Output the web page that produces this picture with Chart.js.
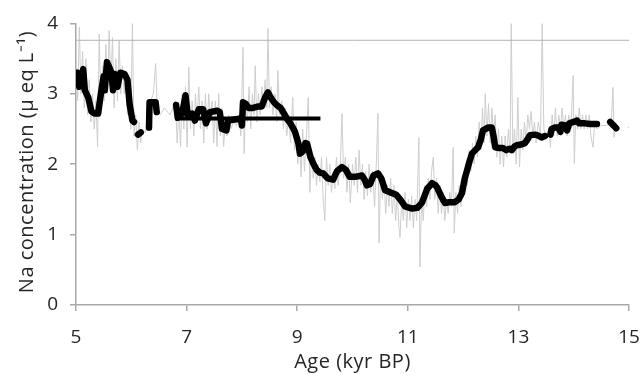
<!DOCTYPE html>
<html>
<head>
<meta charset="utf-8">
<script src="https://cdn.jsdelivr.net/npm/chart.js@4"></script>
<style>
  body { margin: 0; background: #fff; }
</style>
</head>
<body>
<canvas id="naChart" width="643" height="374"></canvas>
<script>
// smoothed record (null = gap in the curve)
const smoothNa = [
  [5.00, 3.20], [5.03, 3.30], [5.06, 3.10], [5.10, 3.25], [5.13, 3.35], [5.16, 3.05],
  [5.22, 2.95], [5.28, 2.75], [5.33, 2.72], [5.40, 2.72], [5.45, 3.00], [5.50, 3.25],
  [5.52, 3.05], [5.56, 3.45], [5.60, 3.38], [5.64, 3.30], [5.67, 3.05], [5.70, 3.28],
  [5.75, 3.10], [5.80, 3.30], [5.88, 3.28], [5.93, 3.20], [5.97, 2.85], [6.02, 2.62],
  [6.05, 2.60], [6.08, null],
  [6.12, 2.42], [6.17, 2.45], [6.2, null],
  [6.32, 2.52], [6.33, 2.88], [6.44, 2.88], [6.46, 2.74], [6.6, null],
  [6.81, 2.84], [6.84, 2.66], [6.92, 2.72], [6.98, 2.98], [7.02, 2.70], [7.10, 2.72],
  [7.15, 2.62], [7.22, 2.78], [7.30, 2.78], [7.35, 2.58], [7.42, 2.74], [7.55, 2.76],
  [7.60, 2.74], [7.64, 2.50], [7.72, 2.48], [7.75, 2.62], [7.98, 2.65], [8.00, 2.55],
  [8.02, 2.88], [8.08, 2.85], [8.12, 2.80], [8.20, 2.80], [8.30, 2.82], [8.36, 2.82],
  [8.42, 2.95], [8.47, 3.02], [8.52, 2.95], [8.58, 2.88], [8.63, 2.84], [8.70, 2.80],
  [8.76, 2.72], [8.81, 2.65], [8.86, 2.60], [8.92, 2.52], [8.96, 2.46], [9.02, 2.30],
  [9.05, 2.15], [9.10, 2.18], [9.15, 2.30], [9.18, 2.29], [9.24, 2.10], [9.29, 2.01],
  [9.35, 1.92], [9.41, 1.88], [9.47, 1.87], [9.55, 1.80], [9.65, 1.78], [9.72, 1.90],
  [9.81, 1.96], [9.88, 1.92], [9.95, 1.82], [10.05, 1.82], [10.17, 1.84], [10.22, 1.78],
  [10.26, 1.70], [10.32, 1.72], [10.38, 1.84], [10.46, 1.87], [10.52, 1.80], [10.59, 1.63],
  [10.68, 1.60], [10.75, 1.58], [10.80, 1.56], [10.88, 1.48], [10.95, 1.40], [10.99, 1.39],
  [11.08, 1.37], [11.17, 1.38], [11.22, 1.42], [11.26, 1.46], [11.35, 1.65], [11.44, 1.73],
  [11.50, 1.70], [11.53, 1.67], [11.60, 1.55], [11.67, 1.45], [11.75, 1.46], [11.85, 1.46],
  [11.92, 1.50], [11.98, 1.59], [12.03, 1.80], [12.07, 1.91], [12.12, 2.05], [12.16, 2.15],
  [12.22, 2.20], [12.27, 2.24], [12.32, 2.35], [12.36, 2.48], [12.45, 2.52], [12.52, 2.52],
  [12.55, 2.40], [12.58, 2.24], [12.65, 2.23], [12.72, 2.23], [12.78, 2.20], [12.84, 2.22],
  [12.88, 2.20], [12.93, 2.25], [12.97, 2.27], [13.05, 2.28], [13.12, 2.30], [13.17, 2.36],
  [13.21, 2.41], [13.30, 2.42], [13.35, 2.41], [13.42, 2.38], [13.48, 2.40], [13.52, null],
  [13.58, 2.42], [13.60, 2.50], [13.66, 2.52], [13.72, 2.52], [13.76, 2.46], [13.78, 2.56],
  [13.85, 2.55], [13.88, 2.48], [13.92, 2.58], [14.00, 2.60], [14.06, 2.62], [14.10, 2.58],
  [14.20, 2.58], [14.30, 2.57], [14.42, 2.57], [14.5, null],
  [14.66, 2.60], [14.72, 2.55], [14.77, 2.51]
]

// raw high resolution record
const rawNa = [
  [5.00, 3.4], [5.03, 2.9], [5.06, 3.95], [5.09, 3.0], [5.12, 3.6], [5.15, 2.8], [5.18, 3.5],
  [5.21, 2.7], [5.24, 3.2], [5.27, 2.6], [5.30, 3.0], [5.33, 2.5], [5.36, 2.9], [5.39, 2.25],
  [5.42, 3.85], [5.45, 2.8], [5.48, 3.4], [5.51, 2.9], [5.54, 3.7], [5.57, 3.0], [5.60, 3.9],
  [5.63, 3.1], [5.66, 3.8], [5.69, 2.8], [5.72, 3.5], [5.75, 2.9], [5.78, 3.75], [5.81, 3.0],
  [5.84, 3.4], [5.87, 3.0], [5.90, 3.3], [5.93, 2.7], [5.96, 3.1], [5.99, 2.5], [6.02, 4.0],
  [6.05, 2.4], [6.08, 2.7], [6.11, 2.2], [6.14, 2.6], [6.17, 2.3], [6.20, 2.5], [6.25, 2.45],
  [6.30, 2.6], [6.35, 2.9], [6.40, 3.0], [6.44, 3.43], [6.47, 2.8], [6.52, 2.7], [6.60, 2.8],
  [6.70, 2.7], [6.80, 2.9], [6.83, 2.3], [6.86, 2.8], [6.89, 2.25], [6.92, 3.0], [6.95, 2.5],
  [6.98, 3.1], [7.01, 2.24], [7.04, 3.38], [7.07, 2.5], [7.10, 2.9], [7.13, 2.4], [7.16, 3.0],
  [7.19, 2.6], [7.22, 3.1], [7.25, 2.5], [7.28, 2.9], [7.31, 2.3], [7.34, 3.0], [7.37, 2.5],
  [7.40, 3.0], [7.43, 2.6], [7.46, 2.9], [7.49, 2.3], [7.52, 2.9], [7.55, 2.25], [7.58, 3.0],
  [7.61, 2.4], [7.64, 2.8], [7.67, 2.25], [7.70, 2.6], [7.73, 2.4], [7.76, 2.7], [7.80, 2.5],
  [7.85, 2.6], [7.90, 2.55], [7.95, 2.7], [7.98, 2.4], [8.02, 3.66], [8.04, 2.15], [8.07, 2.9],
  [8.10, 2.6], [8.13, 3.1], [8.16, 2.5], [8.19, 3.0], [8.22, 2.7], [8.24, 3.4], [8.27, 2.6],
  [8.30, 3.0], [8.33, 2.7], [8.36, 3.1], [8.39, 2.8], [8.42, 3.2], [8.45, 2.8], [8.47, 3.93],
  [8.50, 2.8], [8.53, 3.1], [8.56, 2.7], [8.60, 3.0], [8.63, 2.6], [8.65, 3.33], [8.68, 2.7],
  [8.72, 2.9], [8.75, 2.5], [8.78, 2.8], [8.81, 2.4], [8.85, 2.7], [8.88, 2.3], [8.92, 2.95],
  [8.95, 2.2], [8.98, 2.6], [9.01, 2.0], [9.04, 2.4], [9.07, 1.82], [9.10, 2.5], [9.13, 1.9],
  [9.16, 2.3], [9.20, 2.95], [9.23, 1.6], [9.26, 2.2], [9.29, 1.8], [9.32, 2.1], [9.35, 1.7],
  [9.38, 2.0], [9.41, 1.75], [9.44, 2.1], [9.47, 1.5], [9.50, 1.2], [9.53, 2.1], [9.56, 1.7],
  [9.59, 2.0], [9.62, 1.6], [9.65, 1.9], [9.68, 1.65], [9.71, 2.1], [9.74, 1.7], [9.78, 2.0],
  [9.81, 2.72], [9.84, 1.8], [9.87, 2.1], [9.90, 1.6], [9.93, 2.0], [9.96, 1.45], [10.00, 2.0],
  [10.03, 1.7], [10.06, 2.1], [10.09, 1.6], [10.12, 2.2], [10.15, 1.7], [10.18, 2.0], [10.21, 1.5],
  [10.24, 1.9], [10.27, 1.55], [10.30, 2.0], [10.33, 1.6], [10.36, 1.9], [10.40, 1.4], [10.43, 2.0],
  [10.46, 2.72], [10.48, 0.88], [10.51, 1.9], [10.54, 1.5], [10.57, 1.8], [10.60, 1.3], [10.63, 1.7],
  [10.66, 1.4], [10.69, 1.8], [10.72, 1.3], [10.75, 1.7], [10.78, 1.2], [10.81, 1.6], [10.84, 1.1],
  [10.86, 0.96], [10.89, 1.5], [10.92, 1.2], [10.95, 1.6], [10.98, 1.1], [11.01, 1.5], [11.04, 1.2],
  [11.07, 1.55], [11.10, 1.1], [11.13, 1.5], [11.16, 1.2], [11.20, 2.38], [11.22, 0.54], [11.25, 1.5],
  [11.28, 1.2], [11.31, 1.7], [11.34, 1.4], [11.37, 1.8], [11.40, 1.5], [11.43, 1.9], [11.46, 2.1],
  [11.49, 1.5], [11.52, 1.8], [11.55, 1.3], [11.58, 1.7], [11.61, 1.3], [11.64, 1.6], [11.67, 1.2],
  [11.70, 1.5], [11.73, 1.3], [11.76, 1.6], [11.79, 1.4], [11.82, 2.24], [11.84, 1.02], [11.87, 1.6],
  [11.90, 1.3], [11.93, 1.7], [11.96, 1.4], [11.99, 1.8], [12.02, 1.6], [12.05, 2.0], [12.08, 1.7],
  [12.11, 2.2], [12.14, 1.9], [12.17, 2.3], [12.20, 2.0], [12.23, 2.4], [12.26, 2.1], [12.29, 2.6],
  [12.32, 2.2], [12.35, 2.8], [12.38, 2.3], [12.40, 3.0], [12.43, 2.4], [12.46, 2.86], [12.49, 2.3],
  [12.52, 2.8], [12.55, 2.4], [12.58, 2.7], [12.61, 2.1], [12.64, 2.5], [12.67, 2.0], [12.70, 2.4],
  [12.73, 1.96], [12.76, 2.4], [12.79, 2.1], [12.82, 2.5], [12.85, 2.15], [12.87, 4.0], [12.90, 2.2],
  [12.93, 2.5], [12.96, 2.0], [12.99, 2.95], [13.02, 1.96], [13.05, 2.5], [13.08, 2.2], [13.11, 2.6],
  [13.14, 2.3], [13.17, 2.7], [13.20, 2.5], [13.23, 2.75], [13.26, 2.4], [13.29, 2.6], [13.32, 2.3],
  [13.36, 2.6], [13.40, 2.4], [13.43, 4.0], [13.46, 2.5], [13.50, 2.4], [13.55, 2.5], [13.58, 2.24],
  [13.61, 2.7], [13.64, 2.4], [13.67, 2.8], [13.70, 2.4], [13.73, 2.7], [13.76, 2.5], [13.79, 2.8],
  [13.82, 2.5], [13.85, 2.7], [13.88, 2.4], [13.91, 2.7], [13.95, 2.5], [13.99, 3.26], [14.01, 2.01],
  [14.04, 2.7], [14.07, 2.5], [14.10, 2.8], [14.13, 2.5], [14.16, 2.7], [14.19, 2.5], [14.22, 2.7],
  [14.25, 2.5], [14.28, 2.7], [14.31, 2.4], [14.35, 2.24], [14.38, 2.6], [14.42, 2.5], [14.50, 2.55],
  [14.60, 2.55], [14.68, 2.6], [14.71, 3.09], [14.73, 2.38], [14.76, 2.6], [14.80, 2.5],
  [14.9, null], [14.98, 2.52], [15.0, 2.52]
]

// mean over 6.8-9.4 kyr and the upper reference level
const meanAge = [6.8, 9.42]
const meanNa = 2.65
const refAge = [5, 15]
const refNa = 3.76

const xTicks = [5, 7, 9, 11, 13, 15]
const yTicks = [0, 1, 2, 3, 4]

const xTitle = 'Age (kyr BP)'
const yTitle = 'Na concentration (µ eq L⁻¹)'

const toPoints = arr => arr.map(p => ({ x: p[0], y: p[1] }))

const axisGrey = '#a8a8a8'
const textColor = '#262626'
const fontFamily = '"Open Sans", sans-serif'
const tickSize = 19
const titleSize = 20

// axis titles drawn by hand so they sit where the original puts them
const axisTitles = {
    id: 'axisTitles',
    afterDraw(chart) {
        const ctx = chart.ctx
        const area = chart.chartArea
        ctx.save()
        ctx.fillStyle = textColor
        ctx.font = `${titleSize}px ${fontFamily}`
        ctx.letterSpacing = '0.5px'
        ctx.textAlign = 'center'
        ctx.textBaseline = 'middle'
        ctx.fillText(xTitle, (area.left + area.right) / 2, 362)
        ctx.translate(27, 162)
        ctx.rotate(-Math.PI / 2)
        ctx.fillText(yTitle, 0, 0)
        ctx.restore()
    }
}

new Chart(document.getElementById('naChart'), {
    type: 'line',
    data: {
        datasets: [
            {
                data: toPoints(smoothNa),
                borderColor: '#000',
                borderWidth: 6.5,
                borderJoinStyle: 'round',
                borderCapStyle: 'round',
                pointRadius: 0,
                spanGaps: false,
                order: 0
            },
            {
                data: meanAge.map(a => ({ x: a, y: meanNa })),
                borderColor: '#000',
                borderWidth: 4,
                pointRadius: 0,
                order: 1
            },
            {
                data: refAge.map(a => ({ x: a, y: refNa })),
                borderColor: '#b4b4b4',
                borderWidth: 1,
                pointRadius: 0,
                order: 2
            },
            {
                data: toPoints(rawNa),
                borderColor: '#cecece',
                borderWidth: 1,
                pointRadius: 0,
                spanGaps: false,
                order: 3
            }
        ]
    },
    options: {
        responsive: false,
        animation: false,
        devicePixelRatio: 1,
        layout: { padding: { top: 23, right: 14, left: 0, bottom: 0 } },
        plugins: {
            legend: { display: false },
            tooltip: { enabled: false }
        },
        scales: {
            x: {
                type: 'linear',
                min: 5,
                max: 15,
                afterBuildTicks: axis => { axis.ticks = xTicks.map(v => ({ value: v })) },
                afterFit: axis => {
                    axis.height = 69
                    axis.paddingLeft = 0
                    axis.paddingRight = 0
                },
                grid: { drawOnChartArea: false, tickLength: 6, color: axisGrey, lineWidth: 1.5 },
                border: { color: axisGrey, width: 1.5 },
                ticks: { padding: 15, color: textColor, font: { family: fontFamily, size: tickSize } }
            },
            y: {
                min: 0,
                max: 4,
                afterBuildTicks: axis => { axis.ticks = yTicks.map(v => ({ value: v })) },
                afterFit: axis => { axis.width = 76 },
                grid: { drawOnChartArea: false, tickLength: 6, color: axisGrey, lineWidth: 1.5 },
                border: { color: axisGrey, width: 1.5 },
                ticks: { padding: 12, color: textColor, font: { family: fontFamily, size: tickSize } }
            }
        }
    },
    plugins: [axisTitles]
})
</script>
</body>
</html>
